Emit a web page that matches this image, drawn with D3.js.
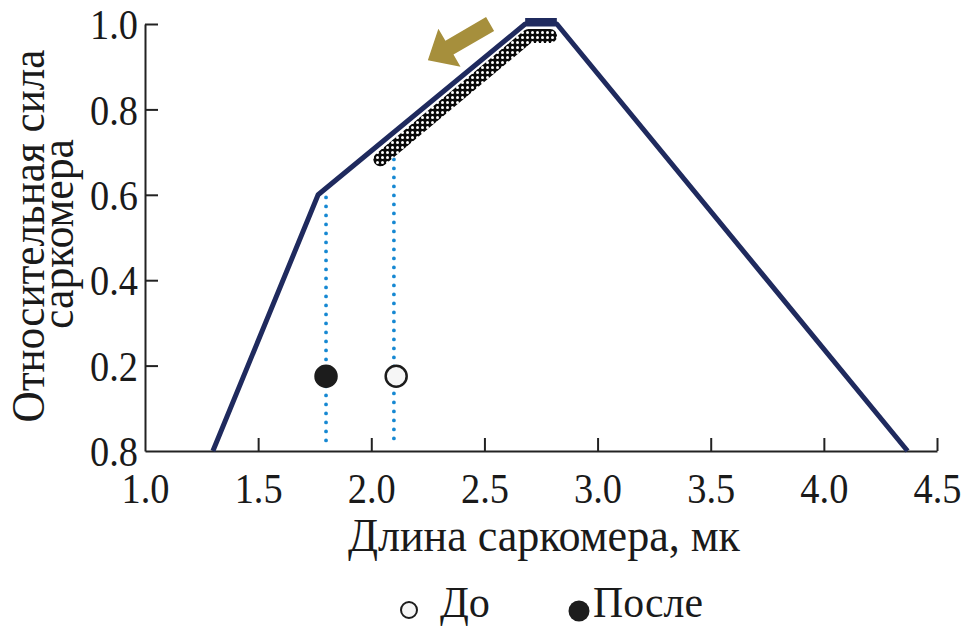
<!DOCTYPE html>
<html><head><meta charset="utf-8">
<script src="https://cdn.jsdelivr.net/npm/d3@7"></script>
<style>body{margin:0;background:#fff}svg{display:block}</style>
</head><body>
<script>
// Data
const curveX = [1.3, 1.765, 2.68, 2.82, 4.37];
const curveY = [0.0, 0.6, 1.0, 1.0, 0.0];
const plateauX = [2.68, 2.82];
const plateauY = [1.0, 1.0];
const bandX = [2.04, 2.695, 2.79];
const bandY = [0.683, 0.972, 0.972];
const dropX = [1.80, 2.10];
const dropY = [0.615, 0.746];
const pointX = [1.80, 2.11];
const pointY = [0.175, 0.175];
const pointSeries = ["После", "До"];
const xTicks = [1.0, 1.5, 2.0, 2.5, 3.0, 3.5, 4.0, 4.5];
const xTickLabels = ["1.0","1.5","2.0","2.5","3.0","3.5","4.0","4.5"];
const yTicks = [1.0, 0.8, 0.6, 0.4, 0.2, 0.0];
const yTickLabels = ["1.0","0.8","0.6","0.4","0.2","0.8"];
const legendLabels = ["До", "После"];
const arrowFrom = [2.525, 1.0];
const arrowTo = [2.25, 0.915];

const W = 966, H = 635;
const svg = d3.select("body").append("svg").attr("width", W).attr("height", H);
const x = d3.scaleLinear().domain([1, 4.5]).range([145, 937]);
const y = d3.scaleLinear().domain([0, 1]).range([451, 24]);
const FONT = "'Liberation Serif','Times New Roman',serif";
const navy = "#1f2a5e";
const ink = "#1a1a1a";

const defs = svg.append("defs");
const pat = defs.append("pattern").attr("id","dots").attr("patternUnits","userSpaceOnUse")
  .attr("width",5).attr("height",5);
pat.append("rect").attr("width",5).attr("height",5).attr("fill","#0a0a0a");
pat.append("circle").attr("cx",2.5).attr("cy",2.5).attr("r",1.5).attr("fill","#fff");

// fit text width (condensed typesetting)
function fit(sel, w){ sel.attr("textLength", w).attr("lengthAdjust","spacingAndGlyphs"); }

// axes
const xAxis = d3.axisBottom(x).tickValues(xTicks).tickSizeInner(-13).tickSizeOuter(0)
  .tickFormat((d,i)=>xTickLabels[i]).tickPadding(0);
const gx = svg.append("g").attr("transform",`translate(0,${y(0)})`).call(xAxis);
const yAxis = d3.axisLeft(y).tickValues(yTicks).tickSizeInner(-13).tickSizeOuter(0)
  .tickFormat((d,i)=>yTickLabels[i]).tickPadding(7);
const gy = svg.append("g").attr("transform",`translate(${x(1)},0)`).call(yAxis);
[gx, gy].forEach(g=>{
  g.select(".domain").attr("stroke","#222").attr("stroke-width",2);
  g.selectAll(".tick line").attr("stroke","#222").attr("stroke-width",2);
  g.selectAll(".tick text").attr("font-family",FONT).attr("font-size",43).attr("fill",ink)
    .call(fit, 48);
});
gx.selectAll(".tick text").attr("y",52).attr("dy","0");
gy.selectAll(".tick text").attr("dy","0.34em");
gx.selectAll(".tick").filter(d=>d===1.0).select("line").remove();
gy.selectAll(".tick").filter(d=>d===0).select("line").remove();

// dotted drop lines
dropX.forEach((dx,i)=>{
  svg.append("line").attr("x1",x(dx)).attr("x2",x(dx)).attr("y1",y(dropY[i])).attr("y2",y(0)-6)
    .attr("stroke","#1688d2").attr("stroke-width",3.8).attr("stroke-linecap","round")
    .attr("stroke-dasharray","0 9");
});

// textured band
const line = d3.line().x(d=>x(d[0])).y(d=>y(d[1]));
svg.append("path").datum(bandX.map((v,i)=>[v,bandY[i]])).attr("d",line)
  .attr("fill","none").attr("stroke","url(#dots)").attr("stroke-width",14)
  .attr("stroke-linejoin","round").attr("stroke-linecap","round");

// main curve
svg.append("path").datum(curveX.map((v,i)=>[v,curveY[i]])).attr("d",line)
  .attr("fill","none").attr("stroke",navy).attr("stroke-width",5).attr("stroke-linejoin","round");
svg.append("path").datum(plateauX.map((v,i)=>[v,plateauY[i]])).attr("d",line)
  .attr("transform","translate(0,-2)")
  .attr("fill","none").attr("stroke",navy).attr("stroke-width",8);

// points
pointX.forEach((px,i)=>{
  const filled = pointSeries[i]==="После";
  svg.append("circle").attr("cx",x(px)).attr("cy",y(pointY[i])).attr("r",10.5)
    .attr("fill",filled?"#1c1c1c":"#f6f6f6").attr("stroke","#1c1c1c").attr("stroke-width",2.5);
});

// arrow
(function(){
  const x0=x(arrowFrom[0]), y0=y(arrowFrom[1]), x1=x(arrowTo[0]), y1=y(arrowTo[1]);
  const dx=x1-x0, dy=y1-y0, L=Math.hypot(dx,dy), ux=dx/L, uy=dy/L, nx=-uy, ny=ux;
  const head=25, hw=22, sw=8;
  const bx=x1-ux*head, by=y1-uy*head;
  const pts=[[x0+nx*sw,y0+ny*sw],[bx+nx*sw,by+ny*sw],[bx+nx*hw,by+ny*hw],[x1,y1],
    [bx-nx*hw,by-ny*hw],[bx-nx*sw,by-ny*sw],[x0-nx*sw,y0-ny*sw]];
  svg.append("polygon").attr("points",pts.map(p=>p.join(",")).join(" ")).attr("fill","#a68f3c");
})();

// axis titles
svg.append("text").attr("transform",`translate(44,236) rotate(-90)`).attr("text-anchor","middle")
  .attr("font-family",FONT).attr("font-size",47).attr("fill",ink).text("Относительная сила").call(fit,373);
svg.append("text").attr("transform",`translate(73,234) rotate(-90)`).attr("text-anchor","middle")
  .attr("font-family",FONT).attr("font-size",46).attr("fill",ink).text("саркомера").call(fit,190);
svg.append("text").attr("x",544).attr("y",551).attr("text-anchor","middle")
  .attr("font-family",FONT).attr("font-size",47).attr("fill",ink).text("Длина саркомера, мк").call(fit,392);

// legend
const lg = svg.append("g");
lg.append("circle").attr("cx",409).attr("cy",610).attr("r",8).attr("fill","#f6f6f6").attr("stroke","#1c1c1c").attr("stroke-width",2);
lg.append("text").attr("x",440).attr("y",617).attr("font-family",FONT).attr("font-size",45).attr("fill",ink).text(legendLabels[0]).call(fit,50);
lg.append("circle").attr("cx",579).attr("cy",611).attr("r",10.5).attr("fill","#1c1c1c");
lg.append("text").attr("x",593).attr("y",617).attr("font-family",FONT).attr("font-size",45).attr("fill",ink).text(legendLabels[1]).call(fit,110);
</script>
</body></html>
